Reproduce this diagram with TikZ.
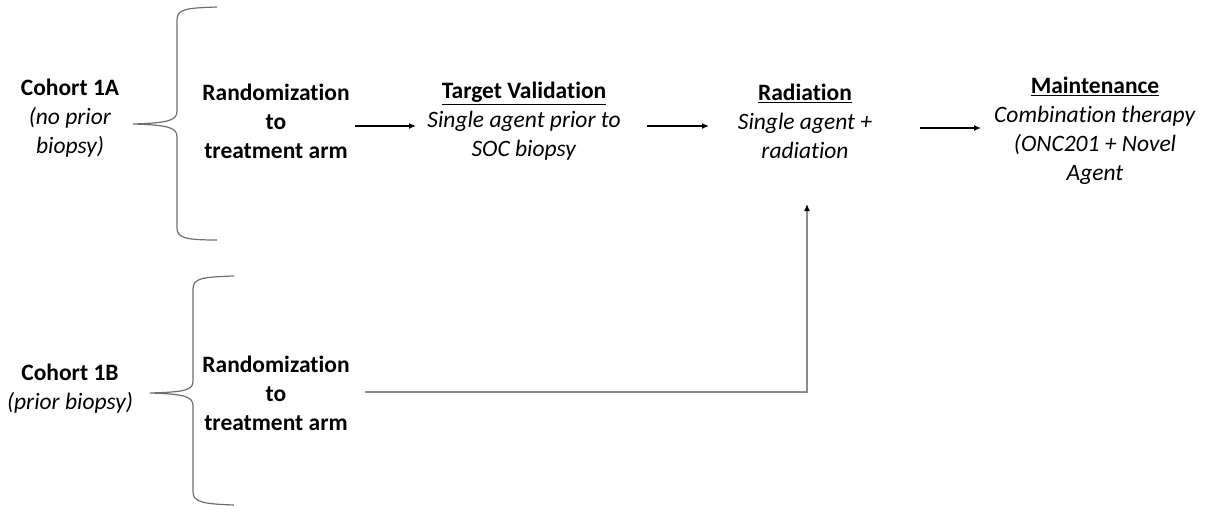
\documentclass[tikz,border=0pt]{standalone}
\usepackage{fontspec}
\setmainfont{Carlito}[Ligatures=NoCommon]
\usetikzlibrary{arrows.meta}
\begin{document}
\begin{tikzpicture}[x=1pt,y=-1pt,
  txt/.style={align=center,inner sep=0pt,font=\fontsize{23.5}{29}\selectfont},
  bold/.style={txt,font=\fontsize{23.5}{29}\selectfont\bfseries},
  brace/.style={draw={rgb,255:red,110;green,110;blue,110},line width=1.2pt},
  arr/.style={line width=1.3pt,-{Latex[length=7pt,width=6pt]}},
  grayarr/.style={draw={rgb,255:red,140;green,140;blue,140},line width=1.3pt,-{Latex[length=7pt,width=6pt,color=black]}}]
\useasboundingbox (0,0) rectangle (1213,506);
% texts
\node[txt] (c1a) at (70,118) {\textbf{Cohort 1A}\\\textit{(no prior}\\\textit{biopsy)}};
\node[bold] (r1) at (276,121) {Randomization\\to\\treatment arm};
\node[txt] (tv) at (524,121) {\textbf{\underline{Target Validation}}\\\textit{Single agent prior to}\\\textit{SOC biopsy}};
\node[txt] (rad) at (805,121) {\textbf{\underline{Radiation}}\\\textit{Single agent +}\\\textit{radiation}};
\node[txt] (mt) at (1095,131) {\textbf{\underline{Maintenance}}\\\textit{Combination therapy}\\\textit{(ONC201 + Novel}\\\textit{Agent}};
\node[txt] (c1b) at (70,389) {\textbf{Cohort 1B}\\\textit{(prior biopsy)}};
\node[bold] (r2) at (276,393) {Randomization\\to\\treatment arm};
% braces
\draw[brace] (217,7) .. controls (186,8) and (177,9) .. (177,20) -- (177,111)
  .. controls (177,120) and (170,123) .. (133,124)
  .. controls (170,125) and (177,128) .. (177,137) -- (177,228)
  .. controls (177,238) and (186,240) .. (217,240);
\draw[brace] (234,276) .. controls (203,277) and (193,278) .. (193,289) -- (193,381)
  .. controls (193,390) and (186,392) .. (150,393)
  .. controls (186,394) and (193,397) .. (193,406) -- (193,492)
  .. controls (193,502) and (203,504) .. (234,505);
% arrows
\coordinate (a1s) at (355,126); \coordinate (a1e) at (416,126);
\coordinate (a2s) at (647,126); \coordinate (a2e) at (709,126);
\coordinate (a3s) at (920,128); \coordinate (a3e) at (981,128);
\draw[arr] (a1s) -- (a1e);
\draw[arr] (a2s) -- (a2e);
\draw[arr] (a3s) -- (a3e);
\coordinate (bs) at (365,392);
\coordinate (be) at (807,204);
\draw[grayarr] (bs) -| (be);
\end{tikzpicture}
\end{document}
